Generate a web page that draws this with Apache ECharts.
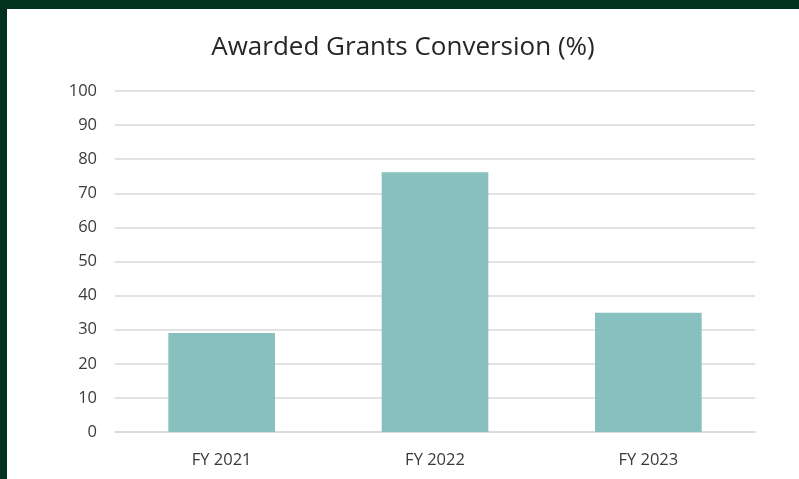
<!DOCTYPE html>
<html>
<head>
<meta charset="utf-8">
<script src="https://cdn.jsdelivr.net/npm/echarts@6/dist/echarts.min.js"></script>
<style>
html,body{margin:0;padding:0;width:799px;height:479px;background:#03311f;overflow:hidden;}
#chart{position:absolute;left:7px;top:9px;width:792px;height:470px;background:#ffffff;}
</style>
</head>
<body>
<div id="chart"></div>
<script>
const categories = ["FY 2021", "FY 2022", "FY 2023"];
const conversionValues = [29, 76.2, 35];
const yTicks = {min: 0, max: 100, interval: 10};

const chart = echarts.init(document.getElementById('chart'), null, {renderer: 'canvas'});
chart.setOption({
  animation: false,
  backgroundColor: '#ffffff',
  title: {
    text: 'Awarded Grants Conversion (%)',
    left: 'center',
    top: 21,
    textStyle: {fontFamily: 'Open Sans', fontSize: 26, fontWeight: 'normal', color: '#262626'}
  },
  grid: {left: 108, right: 44, top: 82, bottom: 47, containLabel: false},
  xAxis: {
    type: 'category',
    data: categories,
    axisLine: {show: true, lineStyle: {color: '#d9d9d9', width: 1.5}},
    axisTick: {show: false},
    axisLabel: {fontFamily: 'Open Sans', fontSize: 16.5, color: '#3a3a3a', margin: 20}
  },
  yAxis: {
    type: 'value',
    min: yTicks.min, max: yTicks.max, interval: yTicks.interval,
    axisLine: {show: false},
    axisTick: {show: false},
    splitLine: {lineStyle: {color: '#d9d9d9', width: 1.5}},
    axisLabel: {fontFamily: 'Open Sans', fontSize: 16.5, color: '#3a3a3a', margin: 18}
  },
  series: [{
    type: 'bar',
    data: conversionValues,
    barWidth: '50%',
    itemStyle: {color: '#88c0bf'}
  }]
});
</script>
</body>
</html>
